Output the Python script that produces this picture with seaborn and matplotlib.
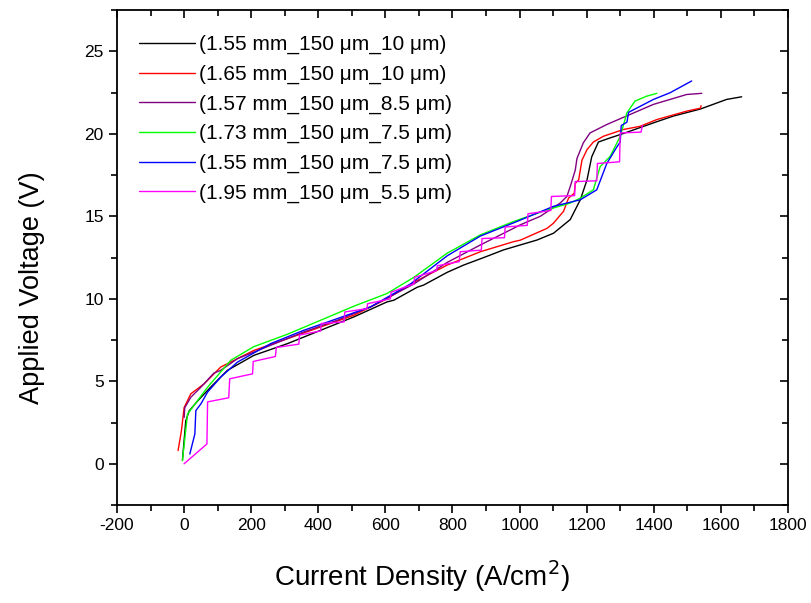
import numpy as np
import pandas as pd
import matplotlib
matplotlib.use("Agg")
import matplotlib.pyplot as plt
import seaborn as sns
from matplotlib.ticker import MultipleLocator

labels = ["(1.55 mm_150 \u03bcm_10 \u03bcm)", "(1.65 mm_150 \u03bcm_10 \u03bcm)",
          "(1.57 mm_150 \u03bcm_8.5 \u03bcm)", "(1.73 mm_150 \u03bcm_7.5 \u03bcm)",
          "(1.55 mm_150 \u03bcm_7.5 \u03bcm)", "(1.95 mm_150 \u03bcm_5.5 \u03bcm)"]
colors = ["#000000", "#FF0000", "#800080", "#00FF00", "#0000FF", "#FF00FF"]

black_x = [-5, 5, 15, 40, 79, 129, 208, 308, 407, 506, 605, 625, 695, 714, 784, 833, 900, 952,
           1002, 1052, 1101, 1151, 1181, 1201, 1215, 1235, 1270, 1300, 1399, 1458, 1539, 1617, 1662]
black_y = [0.2, 2.6, 3.2, 3.8, 4.64, 5.66, 6.57, 7.28, 8.09, 8.9, 9.81, 9.91, 10.7, 10.83, 11.6, 12.04,
           12.55, 12.96, 13.26, 13.56, 13.97, 14.8, 16.0, 17.2, 18.6, 19.5, 19.75, 19.95, 20.66, 21.07,
           21.5, 22.08, 22.24]

red_x = [-18, -8, 0, 20, 60, 109, 208, 308, 407, 506, 600, 685, 784, 883, 982, 1002, 1082, 1101,
         1131, 1146, 1163, 1166, 1176, 1181, 1186, 1201, 1220, 1250, 1310, 1359, 1409, 1498, 1539, 1541]
red_y = [0.8, 2.0, 3.4, 4.24, 4.85, 5.86, 6.87, 7.58, 8.29, 9.0, 9.95, 11.0, 12.04, 12.85, 13.46,
         13.55, 14.27, 14.58, 15.3, 16.1, 16.4, 17.0, 17.2, 17.8, 18.4, 19.04, 19.5, 19.85, 20.26,
         20.45, 20.86, 21.37, 21.55, 21.7]

purple_x = [0, 2, 20, 50, 89, 109, 159, 258, 357, 457, 556, 685, 784, 883, 982, 1002, 1062, 1121,
            1141, 1151, 1166, 1171, 1190, 1210, 1260, 1310, 1399, 1498, 1543]
purple_y = [2.8, 3.4, 4.03, 4.64, 5.5, 5.66, 6.37, 7.18, 7.99, 8.7, 9.51, 10.9, 12.2, 13.26, 14.27,
            14.48, 15.0, 15.8, 16.2, 16.8, 17.8, 18.5, 19.45, 20.05, 20.56, 21.0, 21.78, 22.38, 22.45]

green_x = [-5, 10, 25, 70, 139, 208, 308, 407, 506, 605, 685, 784, 883, 982, 1082, 1151, 1181,
           1220, 1240, 1270, 1300, 1320, 1344, 1379, 1409]
green_y = [0.2, 3.0, 3.42, 4.64, 6.27, 7.1, 7.85, 8.7, 9.55, 10.32, 11.3, 12.76, 13.87, 14.68,
           15.39, 15.8, 16.1, 16.6, 18.0, 18.63, 19.85, 21.27, 21.98, 22.28, 22.45]

blue_x = [17, 32, 35, 50, 70, 109, 159, 258, 357, 457, 556, 675, 784, 883, 982, 1101, 1181, 1230,
          1260, 1290, 1300, 1303, 1320, 1325, 1344, 1399, 1449, 1513]
blue_y = [0.59, 1.8, 3.22, 3.63, 4.34, 5.25, 6.16, 7.28, 8.09, 8.8, 9.51, 10.9, 12.6, 13.8, 14.6,
          15.6, 16.0, 16.6, 18.2, 19.2, 19.5, 20.5, 20.7, 21.3, 21.5, 22.08, 22.49, 23.2]

magenta_x = [0, 68, 70, 133, 136, 204, 206, 272, 275, 342, 344, 407, 409, 477, 479, 545, 547, 615,
             617, 685, 687, 752, 755, 820, 823, 886, 888, 955, 957, 1023, 1025, 1093, 1095, 1164,
             1166, 1230, 1232, 1298, 1300, 1362, 1366]
magenta_y = [0.0, 1.2, 3.75, 4.0, 5.15, 5.45, 6.2, 6.5, 7.05, 7.25, 7.8, 8.05, 8.5, 8.6, 9.2, 9.4,
             9.7, 10.0, 10.4, 10.9, 11.3, 11.7, 12.0, 12.25, 12.85, 12.95, 13.65, 13.7, 14.35, 14.45,
             15.15, 15.35, 16.2, 16.25, 17.1, 17.15, 18.2, 18.3, 20.05, 20.1, 20.5]

series_x = [black_x, red_x, purple_x, green_x, blue_x, magenta_x]
series_y = [black_y, red_y, purple_y, green_y, blue_y, magenta_y]

frames = []
for lab, xs, ys in zip(labels, series_x, series_y):
    frames.append(pd.DataFrame({"x": xs, "y": ys, "series": lab, "order": np.arange(len(xs))}))
df = pd.concat(frames, ignore_index=True)

sns.set_style("white")
plt.rcParams["font.family"] = ["Liberation Sans", "DejaVu Sans"]
plt.rcParams["axes.unicode_minus"] = False
plt.rcParams["text.color"] = "black"
plt.rcParams["axes.labelcolor"] = "black"
plt.rcParams["xtick.color"] = "black"
plt.rcParams["ytick.color"] = "black"

fig = plt.figure(figsize=(8.12, 6.03), dpi=100)
ax = fig.add_axes([0.1441, 0.1625, 0.9704 - 0.1441, 0.9834 - 0.1625])

sns.lineplot(data=df, x="x", y="y", hue="series", hue_order=labels, palette=colors,
             sort=False, estimator=None, lw=1.0, ax=ax)

ax.set_xlim(-200, 1800)
ax.set_ylim(-2.5, 27.5)
ax.xaxis.set_major_locator(MultipleLocator(200))
ax.xaxis.set_minor_locator(MultipleLocator(100))
ax.yaxis.set_major_locator(MultipleLocator(5))
ax.yaxis.set_minor_locator(MultipleLocator(2.5))

for sp in ax.spines.values():
    sp.set_color("black")
    sp.set_linewidth(1.3)

ax.tick_params(which="both", direction="out", bottom=True, left=True, top=False, right=False,
               color="black", labelcolor="black", labelsize=12.5, width=1.2)
ax.tick_params(which="major", length=6)
ax.tick_params(which="minor", length=4)

# mirrored inward ticks on top and right
secx = ax.secondary_xaxis("top")
secx.xaxis.set_major_locator(MultipleLocator(200))
secx.xaxis.set_minor_locator(MultipleLocator(100))
secx.tick_params(which="both", direction="in", labeltop=False, width=1.2, color="black")
secx.tick_params(which="major", length=6)
secx.tick_params(which="minor", length=4)
secx.spines["top"].set_visible(False)
secy = ax.secondary_yaxis("right")
secy.yaxis.set_major_locator(MultipleLocator(5))
secy.yaxis.set_minor_locator(MultipleLocator(2.5))
secy.tick_params(which="both", direction="in", labelright=False, width=1.2, color="black")
secy.tick_params(which="major", length=6)
secy.tick_params(which="minor", length=4)
secy.spines["right"].set_visible(False)

ax.set_xlabel("Current Density (A/cm$^2$)", fontsize=20, color="black")
ax.set_ylabel("Applied Voltage (V)", fontsize=19.5, color="black")
ax.xaxis.set_label_coords(0.4545, -0.108)
ax.yaxis.set_label_coords(-0.108, 0.44)

leg = ax.legend(loc="upper left", bbox_to_anchor=(0.02, 0.966), frameon=False, fontsize=15,
                handlelength=2.7, handletextpad=0.2, labelspacing=0.5, borderaxespad=0.0)
for h in leg.get_lines():
    h.set_linewidth(1.0)
for t in leg.get_texts():
    t.set_color("black")

fig.savefig("out.png", dpi=100)
